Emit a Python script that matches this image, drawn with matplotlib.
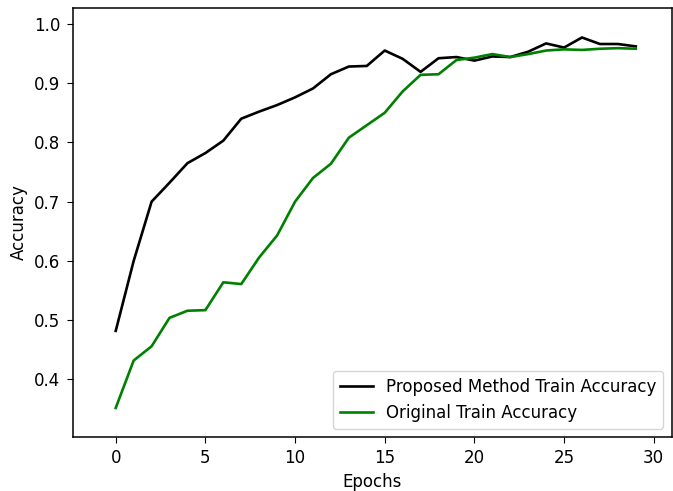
import numpy as np
import matplotlib.pyplot as plt

epochs = np.arange(30)
proposed = [0.482, 0.600, 0.700, 0.732, 0.765, 0.782, 0.803, 0.840, 0.852, 0.863,
            0.876, 0.891, 0.915, 0.928, 0.929, 0.955, 0.941, 0.919, 0.942, 0.944,
            0.938, 0.945, 0.944, 0.953, 0.967, 0.960, 0.977, 0.966, 0.966, 0.962]
original = [0.352, 0.432, 0.456, 0.504, 0.516, 0.517, 0.564, 0.561, 0.606, 0.643,
            0.700, 0.740, 0.764, 0.808, 0.829, 0.850, 0.886, 0.914, 0.915, 0.939,
            0.943, 0.949, 0.944, 0.949, 0.955, 0.957, 0.956, 0.958, 0.959, 0.958]

plt.rcParams['font.size'] = 12
plt.rcParams['axes.linewidth'] = 1.1
plt.rcParams['xtick.major.size'] = 4.5
plt.rcParams['ytick.major.size'] = 4.5
plt.rcParams['xtick.major.pad'] = 4.5
plt.rcParams['ytick.major.pad'] = 4.5

fig = plt.figure(figsize=(6.73, 4.91), dpi=100)
ax = fig.add_subplot(111)
fig.subplots_adjust(left=0.108, right=0.998, top=0.984, bottom=0.11)

ax.plot(epochs, proposed, color='black', lw=1.9, label='Proposed Method Train Accuracy')
ax.plot(epochs, original, color='green', lw=1.9, label='Original Train Accuracy')
ax.set_xlabel('Epochs')
ax.set_ylabel('Accuracy')
ax.set_xlim(-2.4, 31.0)
ax.set_ylim(0.303, 1.027)
ax.legend(loc='lower right')

fig.savefig('out.png', dpi=100)
